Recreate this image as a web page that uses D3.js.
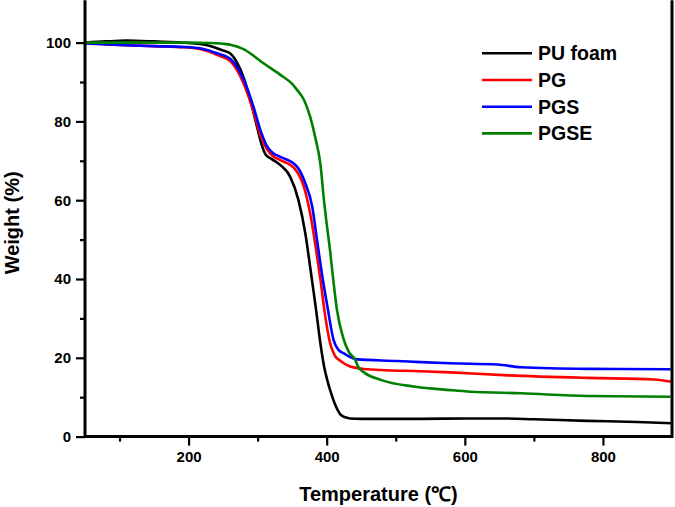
<!DOCTYPE html>
<html>
<head>
<meta charset="utf-8">
<script src="https://cdn.jsdelivr.net/npm/d3@7/dist/d3.min.js"></script>
<style>
  html, body { margin: 0; padding: 0; background: #fff; }
  svg { display: block; }
  text { font-family: "Liberation Sans", Arial, sans-serif; font-weight: bold; }
</style>
</head>
<body>
<svg id="chart" width="675" height="507"></svg>
<script>
// ---- data ----
const seriesNames = ["PU foam", "PG", "PGS", "PGSE"];
const seriesColors = ["#000000", "#ff0000", "#0000ff", "#008000"];

const puFoamT = [50, 80, 110, 150, 200, 230, 250, 260, 270, 280, 290, 300, 306, 312, 320, 333, 347, 359, 369, 376, 384, 391, 396, 401, 406, 412, 420, 427, 434, 450, 536, 600, 656, 700, 777, 850, 900];
const puFoamW = [100, 100.3, 100.5, 100.3, 99.9, 99.2, 98, 97.3, 95, 91, 85, 78, 74, 71.5, 70.5, 68.9, 66, 60.1, 51.6, 43.1, 33, 23.5, 18, 14.2, 11.2, 8.2, 5.6, 4.9, 4.6, 4.5, 4.5, 4.6, 4.6, 4.4, 4.0, 3.7, 3.4];

const pgT = [50, 100, 150, 194, 218, 241, 261, 280, 294, 304, 314, 322, 333, 355, 367, 376, 384, 391, 398, 405, 412, 420, 434, 449, 478, 536, 579, 656, 777, 874, 900];
const pgW = [100, 99.4, 99.1, 98.8, 98.3, 96.9, 95.2, 89.5, 82.5, 76.5, 72.8, 71.2, 70.2, 67.7, 63.4, 56.7, 48.2, 39.7, 30.4, 23.7, 20.5, 19.2, 17.8, 17.3, 16.9, 16.6, 16.3, 15.6, 14.9, 14.5, 13.9];

const pgsT = [50, 100, 150, 194, 218, 241, 261, 280, 294, 304, 314, 322, 333, 357, 369, 379, 386, 393, 401, 410, 417, 425, 444, 502, 536, 579, 647, 681, 777, 898];
const pgsW = [99.8, 99.4, 99.1, 98.9, 98.5, 97.3, 95.8, 90.5, 83.7, 77.8, 73.6, 72, 71, 68.5, 64.3, 58.4, 49.9, 41.4, 33, 24.5, 22, 21.1, 19.6, 19.2, 18.9, 18.6, 18.3, 17.6, 17.2, 17.1];

const pgseT = [50, 100, 150, 200, 230, 250, 262, 272, 281, 289, 309, 333, 350, 357, 367, 376, 384, 391, 396, 400, 405, 410, 415, 424, 432, 441, 446, 454, 478, 526, 579, 608, 681, 777, 898];
const pgseW = [100, 100, 100, 100, 99.9, 99.7, 99.4, 98.9, 98.2, 97.3, 94.7, 91.8, 89.5, 88, 85.5, 81.2, 75.5, 69, 60, 54, 47, 39, 32, 25, 21.5, 19.6, 17.6, 16.3, 14.4, 12.7, 11.8, 11.4, 11.0, 10.3, 10.1];

const xMajorTicks = [200, 400, 600, 800];
const xMinorTicks = [100, 300, 500, 700];
const yMajorTicks = [0, 20, 40, 60, 80, 100];
const yMinorTicks = [10, 30, 50, 70, 90];

const xTitle = "Temperature (\u2103)";
const yTitle = "Weight (%)";

// ---- layout ----
const svg = d3.select("#chart");
const L = 85, R = 672, T = 3.2, B = 436.6;

const x = d3.scaleLinear().domain([50, 900]).range([L, R]);
const y = d3.scaleLinear().domain([0, 110]).range([B, T]);

const series = [
  { t: puFoamT, w: puFoamW },
  { t: pgT, w: pgW },
  { t: pgsT, w: pgsW },
  { t: pgseT, w: pgseW }
];

const line = d3.line()
  .x(d => x(d[0]))
  .y(d => y(d[1]))
  .curve(d3.curveMonotoneX);

const plot = svg.append("g");
series.forEach((s, i) => {
  const pts = s.t.map((t, k) => [t, s.w[k]]);
  plot.append("path")
    .datum(pts)
    .attr("fill", "none")
    .attr("stroke", seriesColors[i])
    .attr("stroke-width", 2.6)
    .attr("stroke-linejoin", "round")
    .attr("d", line);
});

// ---- axes ----
const xAxis = d3.axisBottom(x).tickValues(xMajorTicks).tickSize(9).tickPadding(6).tickFormat(d3.format("d"));
const xAxisMinor = d3.axisBottom(x).tickValues(xMinorTicks).tickSize(5).tickFormat("");
const yAxis = d3.axisLeft(y).tickValues(yMajorTicks).tickSize(9).tickPadding(5).tickFormat(d3.format("d"));
const yAxisMinor = d3.axisLeft(y).tickValues(yMinorTicks).tickSize(5).tickFormat("");

function styleAxis(g) {
  g.select(".domain").remove();
  g.selectAll(".tick line").attr("stroke", "#000").attr("stroke-width", 2.2);
  g.selectAll(".tick text").attr("fill", "#000").style("font-size", "15px").style("font-weight", "bold")
    .style("font-family", "'Liberation Sans', Arial, sans-serif");
}

svg.append("g").attr("transform", `translate(0,${B})`).call(xAxis).call(styleAxis);
svg.append("g").attr("transform", `translate(0,${B})`).call(xAxisMinor).call(styleAxis);
svg.append("g").attr("transform", `translate(${L},0)`).call(yAxis).call(styleAxis);
svg.append("g").attr("transform", `translate(${L},0)`).call(yAxisMinor).call(styleAxis);

// frame: left, bottom, right
svg.append("path")
  .attr("d", `M${L},${T - 3}V${B}H${R}V${T - 3}`)
  .attr("fill", "none")
  .attr("stroke", "#000")
  .attr("stroke-width", 3);

// ---- titles ----
svg.append("text")
  .attr("x", (L + R) / 2)
  .attr("y", 501)
  .attr("text-anchor", "middle")
  .style("font-size", "20px")
  .text(xTitle);

svg.append("text")
  .attr("transform", `translate(19,${(T + B) / 2 + 3}) rotate(-90)`)
  .attr("text-anchor", "middle")
  .style("font-size", "20px")
  .text(yTitle);

// ---- legend ----
const legend = svg.append("g");
seriesNames.forEach((name, i) => {
  const ly = 53.3 + i * 26.7;
  legend.append("line")
    .attr("x1", 482).attr("x2", 532)
    .attr("y1", ly).attr("y2", ly)
    .attr("stroke", seriesColors[i])
    .attr("stroke-width", 2.6);
  legend.append("text")
    .attr("x", 538)
    .attr("y", ly + 7)
    .style("font-size", "19.5px")
    .text(name);
});
</script>
</body>
</html>
